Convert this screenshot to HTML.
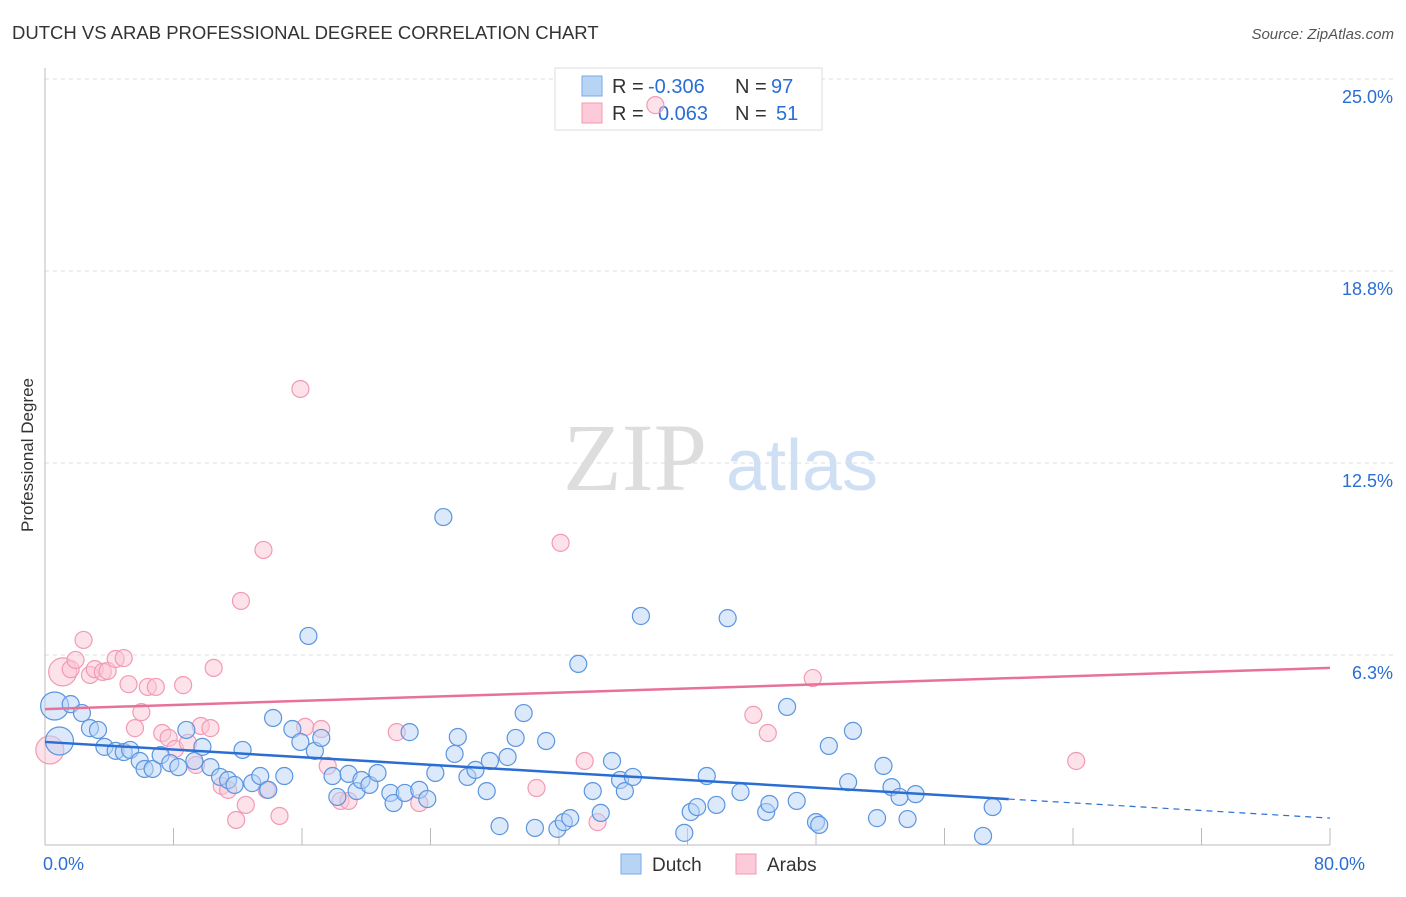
<!DOCTYPE html>
<html><head><meta charset="utf-8"><style>
body{margin:0;background:#fff;font-family:"Liberation Sans",sans-serif}
</style></head><body>
<svg width="1406" height="892" xmlns="http://www.w3.org/2000/svg" id="chart">
<text x="12" y="39" font-size="18.5" fill="#333">DUTCH VS ARAB PROFESSIONAL DEGREE CORRELATION CHART</text>
<text x="1394" y="39" font-size="15" fill="#555" font-style="italic" text-anchor="end">Source: ZipAtlas.com</text>
<text x="33" y="455" font-size="17" fill="#333" text-anchor="middle" transform="rotate(-90 33 455)">Professional Degree</text>
<g>
<text x="635" y="490" font-size="96" fill="#ddd" font-family="Liberation Serif,serif" text-anchor="middle">ZIP</text>
<text x="802" y="490" font-size="72" fill="#cfe0f5" text-anchor="middle">atlas</text></g>
<g id="grid"></g>
<g>
<rect x="555" y="68" width="267" height="62" fill="#fff" stroke="#ddd"/>
<rect x="582" y="76" width="20" height="20" fill="#b8d4f5" stroke="#7aaae8"/>
<rect x="582" y="103" width="20" height="20" fill="#fccad8" stroke="#f29ab5"/>
<text y="93" font-size="20" fill="#333"><tspan x="612">R =</tspan><tspan x="648" fill="#2a6ed4">-0.306</tspan><tspan x="735">N =</tspan><tspan x="771" fill="#2a6ed4">97</tspan></text>
<text y="120" font-size="20" fill="#333"><tspan x="612">R =</tspan><tspan x="658" fill="#2a6ed4">0.063</tspan><tspan x="735">N =</tspan><tspan x="776" fill="#2a6ed4">51</tspan></text>
</g>
<g id="pts"></g><g id="trend"></g>
<g>
<rect x="621" y="854" width="20" height="20" fill="#b8d4f5" stroke="#7aaae8"/>
<text x="652" y="871" font-size="19" fill="#333">Dutch</text>
<rect x="736" y="854" width="20" height="20" fill="#fccad8" stroke="#f29ab5"/>
<text x="767" y="871" font-size="19" fill="#333">Arabs</text>
</g>
</svg>
<script>
const yTicks=[0,6.25,12.5,18.75,25];
const yTickLabels=["","6.3%","12.5%","18.8%","25.0%"];
const xTickLabels=["0.0%","80.0%"];
const dutchX=[0.6,0.9,1.6,2.3,2.8,3.3,3.7,4.4,4.9,5.3,5.9,6.2,6.7,7.2,7.8,8.3,8.8,9.3,9.8,10.3,10.9,11.4,11.8,12.3,12.9,13.4,13.9,14.2,14.9,15.4,15.9,16.4,16.8,17.2,17.9,18.2,18.9,19.4,19.7,20.2,20.7,21.5,21.7,22.4,22.7,23.3,23.8,24.3,24.8,25.5,25.7,26.3,26.8,27.5,27.7,28.3,28.8,29.3,29.8,30.5,31.2,31.9,32.3,32.7,33.2,34.1,34.6,35.3,35.8,36.1,36.6,37.1,39.8,40.2,40.6,41.2,41.8,42.5,43.3,44.9,45.1,46.2,46.8,48.0,48.2,48.8,50.0,50.3,51.8,52.2,52.7,53.2,53.7,54.2,58.4,59.0];
const dutchY=[4.59,3.45,4.65,4.36,3.87,3.81,3.26,3.13,3.09,3.16,2.80,2.54,2.54,2.99,2.73,2.60,3.81,2.80,3.26,2.60,2.28,2.18,2.02,3.16,2.08,2.31,1.86,4.20,2.31,3.84,3.42,6.87,3.13,3.55,2.31,1.63,2.38,1.82,2.18,2.02,2.41,1.76,1.43,1.76,3.74,1.86,1.56,2.41,10.74,3.03,3.58,2.28,2.51,1.82,2.80,0.68,2.93,3.55,4.36,0.62,3.45,0.59,0.81,0.94,5.96,1.82,1.11,2.80,2.18,1.82,2.28,7.52,0.46,1.14,1.30,2.31,1.37,7.45,1.79,1.14,1.40,4.56,1.50,0.81,0.72,3.29,2.11,3.78,0.94,2.64,1.95,1.63,0.91,1.72,0.36,1.30];
const arabX=[0.3,1.1,1.6,1.9,2.4,2.8,3.1,3.6,3.9,4.4,4.9,5.2,5.6,6.0,6.4,6.9,7.3,7.7,8.1,8.6,8.9,9.4,9.7,10.3,10.5,11.0,11.4,11.9,12.2,12.5,13.6,13.8,14.6,15.9,16.2,17.2,17.6,18.4,18.9,21.9,23.3,30.6,32.1,33.6,34.4,38.0,44.1,45.0,47.8,64.2];
const arabY=[3.16,5.70,5.79,6.09,6.74,5.60,5.79,5.70,5.73,6.12,6.15,5.30,3.87,4.39,5.21,5.21,3.71,3.55,3.19,5.27,3.39,2.67,3.94,3.87,5.83,1.99,1.86,0.88,8.01,1.37,9.67,1.86,1.01,14.91,3.91,3.84,2.64,1.50,1.50,3.74,1.43,1.92,9.90,2.80,0.81,24.15,4.30,3.71,5.50,2.80];
const dutchTrend=[[0,3.42],[60,1.56],[80,0.94]];
const arabTrend=[[0,4.49],[80,5.83]];
const NS="http://www.w3.org/2000/svg";
const X=v=>45+v/80*1285, Y=v=>847-v/6.25*192;
function mk(t,a,p){const e=document.createElementNS(NS,t);for(const k in a)e.setAttribute(k,a[k]);document.getElementById(p).appendChild(e);return e;}
yTicks.forEach((t,i)=>{if(t>0){const l=mk('line',{x1:45,x2:1394,y1:Y(t),y2:Y(t),stroke:'#ddd','stroke-dasharray':'4,4'},'grid');


const tx=mk('text',{x:1393,y:Y(t)+24,'font-size':18,fill:'#2a6ed4','text-anchor':'end'},'grid');tx.textContent=yTickLabels[i];

}});
mk('line',{x1:45,x2:45,y1:68,y2:845,stroke:'#bbb'},'grid');
mk('line',{x1:45,x2:1330,y1:845,y2:845,stroke:'#bbb'},'grid');
for(let i=0;i<=10;i++){const t=mk('line',{x1:X(i*8),x2:X(i*8),y1:828,y2:845,stroke:'#bbb'},'grid');

}
[[0,'start'],[80,'end']].forEach((d,i)=>{const t=mk('text',{x:X(d[0])+(i?35:-2),y:870,'font-size':18,fill:'#2a6ed4','text-anchor':d[1]},'grid');t.textContent=xTickLabels[i];

});
function pts(xs,ys,f,s,name){xs.forEach((x,i)=>{const big=(x<1.5&&i<2)?14:8.5;const c=mk('circle',{cx:X(x),cy:Y(ys[i]),r:big,fill:f,'fill-opacity':0.5,stroke:s,'stroke-width':1.2},'pts');

});}
pts(arabX,arabY,'#fbc5d5','#f29ab5','arab-point');
pts(dutchX,dutchY,'#b8d4f5','#5b95e0','dutch-point');
const d1=mk('line',{x1:X(dutchTrend[0][0]),y1:Y(dutchTrend[0][1]),x2:X(dutchTrend[1][0]),y2:Y(dutchTrend[1][1]),stroke:'#2a6ed4','stroke-width':2.5},'trend');


const d2=mk('line',{x1:X(dutchTrend[1][0]),y1:Y(dutchTrend[1][1]),x2:X(dutchTrend[2][0]),y2:Y(dutchTrend[2][1]),stroke:'#2a6ed4','stroke-width':1.2,'stroke-dasharray':'6,5'},'trend');


const a1=mk('line',{x1:X(arabTrend[0][0]),y1:Y(arabTrend[0][1]),x2:X(arabTrend[1][0]),y2:Y(arabTrend[1][1]),stroke:'#e8719a','stroke-width':2.5},'trend');


</script>
</body></html>
